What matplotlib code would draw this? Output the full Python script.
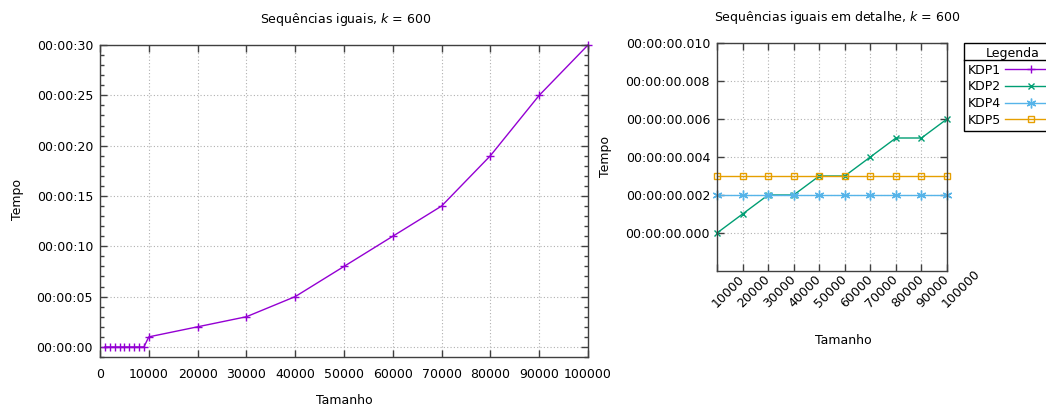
import matplotlib
matplotlib.use("Agg")
import matplotlib.pyplot as plt
from matplotlib.ticker import MultipleLocator, FuncFormatter, FormatStrFormatter
from matplotlib.lines import Line2D

plt.rcParams['font.family'] = ['DejaVu Sans']
plt.rcParams['font.size'] = 9

# dados do grafico da esquerda (KDP1, tempo em segundos)
tam_kdp1 = [1000, 2000, 3000, 4000, 5000, 6000, 7000, 8000, 9000,
            10000, 20000, 30000, 40000, 50000, 60000, 70000, 80000, 90000, 100000]
tempo_kdp1 = [0, 0, 0, 0, 0, 0, 0, 0, 0,
              1, 2, 3, 5, 8, 11, 14, 19, 25, 30]

# dados do detalhe (tempo em segundos)
tam = [10000, 20000, 30000, 40000, 50000, 60000, 70000, 80000, 90000, 100000]
tempo_kdp2 = [0.000, 0.001, 0.002, 0.002, 0.003, 0.003, 0.004, 0.005, 0.005, 0.006]
tempo_kdp4 = [0.002] * 10
tempo_kdp5 = [0.003] * 10

c1, c2, c4, c5 = '#9400d3', '#009e73', '#56b4e9', '#e69f00'
W, H = 1046, 412

fig = plt.figure(figsize=(W / 100, H / 100), dpi=100)

def box(x0, y0, x1, y1):
    return [x0 / W, 1 - y1 / H, (x1 - x0) / W, (y1 - y0) / H]

def estilo(ax):
    for s in ax.spines.values():
        s.set_color('#404040')
        s.set_linewidth(1.0)
    ax.tick_params(which='both', direction='in', top=True, right=True, colors='#404040', labelcolor='black')
    ax.tick_params(which='major', length=5, width=1)
    ax.tick_params(which='minor', length=3, width=1)
    ax.grid(True, which='major', linestyle=(0, (1, 2)), color='#b0b0b0', linewidth=0.8)

# grafico da esquerda
ax1 = fig.add_axes(box(100, 45, 588, 357))
estilo(ax1)
ax1.plot(tam_kdp1, tempo_kdp1, color=c1, marker='+', markersize=6, linewidth=1, clip_on=False)
ax1.set_xlim(0, 100000)
ax1.set_ylim(-1, 30)
ax1.xaxis.set_major_locator(MultipleLocator(10000))
ax1.xaxis.set_major_formatter(FormatStrFormatter('%d'))
ax1.yaxis.set_major_locator(MultipleLocator(5))
ax1.yaxis.set_minor_locator(MultipleLocator(1))
ax1.yaxis.set_major_formatter(FuncFormatter(lambda v, p: '00:00:%02d' % round(v)))
ax1.tick_params(axis='x', pad=8)
ax1.tick_params(axis='y', pad=5)
fig.text(346 / W, 1 - 19 / H, r'Sequências iguais, $k$ = 600', ha='center', va='center')
fig.text(344 / W, 1 - 401 / H, 'Tamanho', ha='center', va='center')
fig.text(17 / W, 1 - 200 / H, 'Tempo', ha='center', va='center', rotation=90)

# grafico da direita (detalhe)
ax2 = fig.add_axes(box(717, 43, 947, 271))
estilo(ax2)
ax2.plot(tam_kdp1, tempo_kdp1, color=c1, marker='+', markersize=6, linewidth=1, label='KDP1')
ax2.plot(tam, tempo_kdp2, color=c2, marker='x', markersize=5, linewidth=1, label='KDP2', clip_on=False)
ax2.plot(tam, tempo_kdp4, color=c4, marker=(6, 2, 0), markersize=7, linewidth=1, label='KDP4', clip_on=False)
ax2.plot(tam, tempo_kdp5, color=c5, marker='s', markersize=5, markerfacecolor='none',
         linewidth=1, label='KDP5', clip_on=False)
ax2.set_xlim(10000, 100000)
ax2.set_ylim(-0.002, 0.010)
ax2.set_xticks(tam)
ax2.xaxis.set_major_formatter(FormatStrFormatter('%d'))
ax2.yaxis.set_major_formatter(FuncFormatter(lambda v, p: '00:00:%06.3f' % abs(v)))
ax2.set_yticks([0, 0.002, 0.004, 0.006, 0.008, 0.010])
ax2.tick_params(axis='x', pad=27)
ax2.tick_params(axis='y', pad=5)
plt.setp(ax2.get_xticklabels(), rotation=45, ha='left', va='baseline', rotation_mode='anchor')
fig.text(837 / W, 1 - 17 / H, r'Sequências iguais em detalhe, $k$ = 600', ha='center', va='center')
fig.text(843 / W, 1 - 340 / H, 'Tamanho', ha='center', va='center')
fig.text(606 / W, 1 - 157 / H, 'Tempo', ha='center', va='center', rotation=90)

leg = ax2.legend(loc='upper left', bbox_to_anchor=(964 / W, 1 - 43 / H), bbox_transform=fig.transFigure,
                 title='Legenda', markerfirst=False, fancybox=False, framealpha=1,
                 edgecolor='black', handlelength=4.2, handletextpad=0.3, labelspacing=0.3,
                 borderpad=0.3, borderaxespad=0, fontsize=9, title_fontsize=9)
leg.get_frame().set_linewidth(1.0)
fig.add_artist(Line2D([964 / W, 1.0], [1 - 60 / H, 1 - 60 / H], color='black', linewidth=1.0))

fig.savefig('out.png', dpi=100)
